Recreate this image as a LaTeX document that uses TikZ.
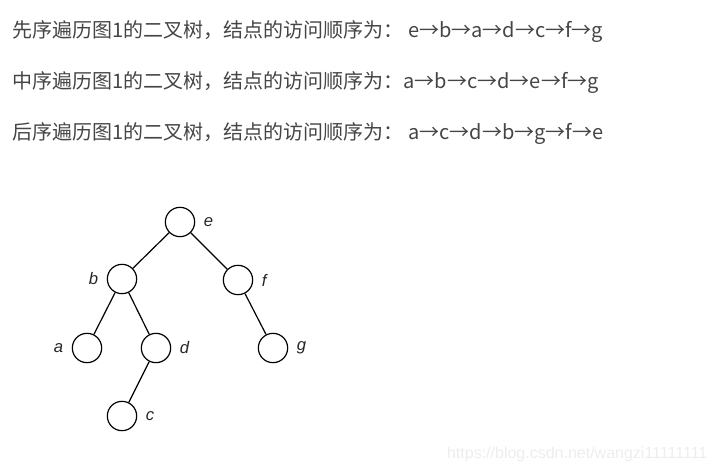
\documentclass[tikz,border=0pt]{standalone}
\usepackage{fontspec}
\setmainfont{Liberation Sans}
\newfontfamily\cjk{Noto Sans CJK SC}
\usepackage{xcolor}
\definecolor{textgray}{HTML}{454545}
\definecolor{markgray}{HTML}{EDEDED}

\begin{document}
\begin{tikzpicture}[x=0.75pt,y=-0.75pt,line width=0.9pt,
  order line/.style={anchor=base west,inner sep=0pt,text=textgray,font=\cjk\fontsize{15}{18}\selectfont}]

    \tikzstyle{tree node} = [circle,draw,inner sep=0pt,minimum size=22pt]
    \tikzstyle{tree label} = [inner sep=0pt,label distance=6pt,text=black!85,font=\itshape\fontsize{12.5}{15}\selectfont]

  \useasboundingbox (0,0) rectangle (716,473);

  % traversal orders
  \node[order line] (pre)  at (12,38)  {先序遍历图1的二叉树，结点的访问顺序为： e→b→a→d→c→f→g};
  \node[order line] (in)   at (12,89)  {中序遍历图1的二叉树，结点的访问顺序为：a→b→c→d→e→f→g};
  \node[order line] (post) at (12,140) {后序遍历图1的二叉树，结点的访问顺序为： a→c→d→b→g→f→e};

  % figure 1
  \node[tree node,label={[tree label]right:e}] (e) at (180,222) {};
  \node[tree node,label={[tree label]left:b}]  (b) at (122,279) {};
  \node[tree node,label={[tree label]right:f}] (f) at (238,280) {};
  \node[tree node,label={[tree label]left:a}]  (a) at (87,348)  {};
  \node[tree node,label={[tree label]right:d}] (d) at (156,348) {};
  \node[tree node,label={[tree label]right:g}] (g) at (273,348) {};
  \node[tree node,label={[tree label]right:c}] (c) at (122,416) {};

  \path
    (e) edge (b)
    (e) edge (f)
    (b) edge (a)
    (b) edge (d)
    (d) edge (c)
    (f) edge (g)
    ;

  \node[anchor=base east,inner sep=0pt,text=markgray,font=\fontsize{12}{14}\selectfont] (mark) at (708,458) {https://blog.csdn.net/wangzi11111111};

\end{tikzpicture}
\end{document}
